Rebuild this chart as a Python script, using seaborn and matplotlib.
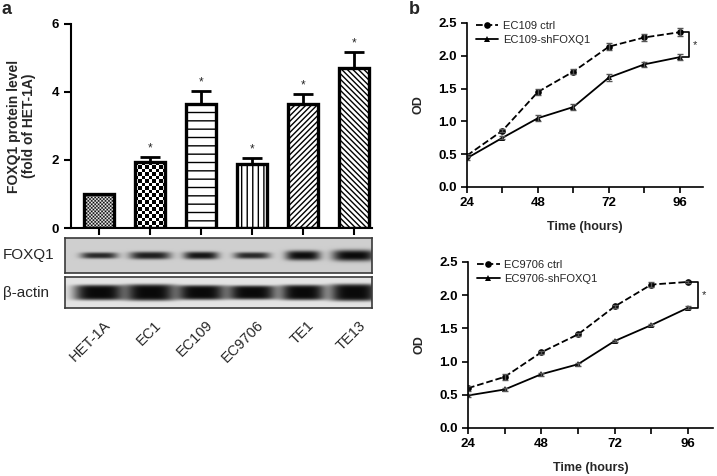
import numpy as np
import pandas as pd
import matplotlib
matplotlib.use('Agg')
import matplotlib.pyplot as plt
import seaborn as sns

sns.set_style('ticks')
plt.rcParams['font.family'] = ['Liberation Sans', 'DejaVu Sans']
plt.rcParams['hatch.linewidth'] = 1.0

# panel a: FOXQ1 protein level
cell_lines = ['HET-1A', 'EC1', 'EC109', 'EC9706', 'TE1', 'TE13']
foxq1_level = [1.0, 1.93, 3.65, 1.88, 3.65, 4.70]
foxq1_err = [0.0, 0.17, 0.38, 0.17, 0.30, 0.48]
hatches = ['checker_fine', 'checker', '--', '|||', '//////', '\\\\\\\\\\\\']

# western blot bands (half width in lanes, half thickness as strip fraction, darkness)
foxq1_band_w = [0.36, 0.40, 0.34, 0.35, 0.34, 0.42]
foxq1_band_h = [0.09, 0.11, 0.11, 0.095, 0.14, 0.16]
foxq1_band_d = [0.85, 0.90, 0.95, 0.85, 0.99, 1.0]
actin_band_w = [0.50, 0.50, 0.49, 0.49, 0.45, 0.48]
actin_band_h = [0.25, 0.27, 0.24, 0.23, 0.25, 0.28]
actin_band_d = [1.0, 1.0, 1.0, 1.0, 1.0, 1.0]

# panel b: growth curves
hours = [24, 36, 48, 60, 72, 84, 96]
ec109_ctrl = [0.48, 0.86, 1.45, 1.76, 2.14, 2.28, 2.36]
ec109_ctrl_err = [0.03, 0.02, 0.04, 0.04, 0.05, 0.05, 0.06]
ec109_sh = [0.44, 0.75, 1.05, 1.22, 1.67, 1.87, 1.98]
ec109_sh_err = [0.03, 0.02, 0.04, 0.04, 0.06, 0.04, 0.05]
ec9706_ctrl = [0.60, 0.77, 1.14, 1.41, 1.83, 2.16, 2.20]
ec9706_ctrl_err = [0.04, 0.04, 0.02, 0.02, 0.02, 0.04, 0.02]
ec9706_sh = [0.49, 0.58, 0.81, 0.96, 1.31, 1.55, 1.81]
ec9706_sh_err = [0.02, 0.02, 0.02, 0.02, 0.02, 0.02, 0.02]

W, H = 717, 476
fig = plt.figure(figsize=(W / 100, H / 100), dpi=100)


def px_axes(l, t, r, b):
    return fig.add_axes([l / W, 1 - b / H, (r - l) / W, (b - t) / H])


bold = dict(fontweight='bold')

# ---- bar chart ----
ax = px_axes(71, 24, 372, 228)
sns.barplot(x=cell_lines, y=foxq1_level, ax=ax, color='white', edgecolor='black',
            linewidth=2.4, width=0.6, saturation=1, errorbar=None)
px_x = 301 / 5.9
px_y = 204 / 6
for patch, h in zip(ax.patches, hatches):
    patch.set_zorder(2)
    if h.startswith('checker'):
        cell = 1.7 if h == 'checker_fine' else 3.4
        nx = max(1, int(round(patch.get_width() * px_x / cell)))
        ny = max(1, int(round(patch.get_height() * px_y / cell)))
        ii, jj = np.indices((ny, nx))
        board = ((ii + jj) % 2).astype(float)
        x0 = patch.get_x()
        im = ax.imshow(board, cmap='gray', vmin=0, vmax=1, aspect='auto',
                       extent=[x0, x0 + patch.get_width(), 0, patch.get_height()],
                       interpolation='antialiased', zorder=1)
        im.set_clip_path(patch)
        patch.set_facecolor('none')
    else:
        patch.set_hatch(h)
ax.set_xlim(-0.55, 5.35)
ax.set_ylim(0, 6)
idx = list(range(1, len(cell_lines)))
ax.errorbar(idx, [foxq1_level[i] for i in idx],
            yerr=[[0] * len(idx), [foxq1_err[i] for i in idx]],
            fmt='none', ecolor='black', elinewidth=2, capsize=7, capthick=2, zorder=3)
for i in idx:
    ax.text(i, foxq1_level[i] + foxq1_err[i] + 0.07, '*', ha='center', va='bottom',
            fontsize=8.5)
ax.set_yticks([0, 2, 4, 6])
ax.set_yticklabels(['0', '2', '4', '6'], fontsize=9.5, **bold)
ax.set_xticks(range(len(cell_lines)))
ax.set_xticklabels([])
ax.set_xlabel('')
ax.tick_params(axis='both', direction='out', length=5, width=1.5, colors='black')
ax.set_ylabel('FOXQ1 protein level\n(fold of HET-1A)', fontsize=10, labelpad=11,
              linespacing=1.1, **bold)
sns.despine(ax=ax)
for s in ['left', 'bottom']:
    ax.spines[s].set_linewidth(1.5)
    ax.spines[s].set_color('black')

# ---- western blot strips ----
blot_xlim = (-0.55 - 6 / px_x, 5.35)
lanes = np.arange(len(cell_lines))


def blot_strip(t, b, bg, widths, heights, darks, vexp):
    bx = px_axes(65, t, 372, b)
    npx_x, npx_y = 307 * 2, (b - t) * 2
    gx = np.linspace(blot_xlim[0], blot_xlim[1], npx_x)
    gy = np.linspace(0, 1, npx_y)
    X, Y = np.meshgrid(gx, gy)
    keep = np.ones_like(X)
    for i, w, h, d in zip(lanes, widths, heights, darks):
        band = d * np.exp(-np.abs((X - i) / w) ** 4 - np.abs((Y - 0.5) / h) ** vexp)
        keep *= 1 - band
    img = 0.04 + (bg - 0.04) * keep
    bx.imshow(img, cmap='gray', vmin=0, vmax=1, aspect='auto', origin='lower',
              extent=[blot_xlim[0], blot_xlim[1], 0, 1], interpolation='bilinear')
    bx.set_xlim(*blot_xlim)
    bx.set_ylim(0, 1)
    bx.set_xticks([])
    bx.set_yticks([])
    for s in bx.spines.values():
        s.set_linewidth(1.2)
        s.set_color('#3a3a3a')
        s.set_visible(True)
    return bx


fx = blot_strip(238, 273, 0.81, foxq1_band_w, foxq1_band_h, foxq1_band_d, 3)
bx = blot_strip(277, 308, 0.89, actin_band_w, actin_band_h, actin_band_d, 6)
fig.text(3 / W, 1 - 255 / H, 'FOXQ1', fontsize=11, va='center', ha='left')
fig.text(3 / W, 1 - 293 / H, 'β-actin', fontsize=11, va='center', ha='left')
for i, name in zip(lanes, cell_lines):
    bx.text(i + 14 / px_x, -10 / 31, name, rotation=45, ha='right', va='top',
            fontsize=10.5, transform=bx.transData)

# ---- growth curves ----


def growth(axg, ctrl, ctrl_err, sh, sh_err, names, xmax):
    sns.lineplot(x=hours, y=ctrl, ax=axg, color='black', marker='o', markersize=4.8,
                 linestyle='--', linewidth=1.3, label=names[0], markeredgewidth=0)
    sns.lineplot(x=hours, y=sh, ax=axg, color='black', marker='^', markersize=5,
                 linestyle='-', linewidth=1.3, label=names[1], markeredgewidth=0)
    axg.errorbar(hours, ctrl, yerr=ctrl_err, fmt='none', ecolor='#555555',
                 elinewidth=1, capsize=2.5, capthick=1)
    axg.errorbar(hours, sh, yerr=sh_err, fmt='none', ecolor='#555555',
                 elinewidth=1, capsize=2.5, capthick=1)
    axg.set_xlim(24, xmax)
    axg.set_ylim(0, 2.5)
    axg.set_xticks(hours)
    axg.set_xticklabels([str(h) if h % 24 == 0 else '' for h in hours], fontsize=9.5,
                        **bold)
    yt = [0, 0.5, 1.0, 1.5, 2.0, 2.5]
    axg.set_yticks(yt)
    axg.set_yticklabels([f'{v:.1f}' for v in yt], fontsize=9.5, **bold)
    axg.tick_params(axis='both', direction='out', length=4, width=1.2, colors='black')
    axg.set_xlabel('Time (hours)', fontsize=9, labelpad=8, **bold)
    axg.set_ylabel('OD', fontsize=9, labelpad=10, **bold)
    sns.despine(ax=axg)
    for s in ['left', 'bottom']:
        axg.spines[s].set_linewidth(1.2)
        axg.spines[s].set_color('black')
    axg.legend(loc='upper left', bbox_to_anchor=(0.02, 1.04), frameon=False,
               fontsize=8, handlelength=2.0, handletextpad=0.4, labelspacing=0.35,
               borderaxespad=0)
    y1, y2 = ctrl[-1], sh[-1]
    axg.plot([hours[-1] + 0.7, hours[-1] + 3.2, hours[-1] + 3.2, hours[-1] + 0.7],
             [y1, y1, y2, y2], color='black', lw=1.2, clip_on=False)
    axg.text(hours[-1] + 4.5, (y1 + y2) / 2, '*', fontsize=8, va='center', ha='left')


ax_top = px_axes(467, 23, 703, 187)
growth(ax_top, ec109_ctrl, ec109_ctrl_err, ec109_sh, ec109_sh_err,
       ['EC109 ctrl', 'EC109-shFOXQ1'], 103.8)
ax_bot = px_axes(468, 262, 713, 428)
growth(ax_bot, ec9706_ctrl, ec9706_ctrl_err, ec9706_sh, ec9706_sh_err,
       ['EC9706 ctrl', 'EC9706-shFOXQ1'], 104.2)

fig.text(2 / W, 1 - 1 / H, 'a', fontsize=13, va='top', ha='left', **bold)
fig.text(409 / W, 1 - 1 / H, 'b', fontsize=13, va='top', ha='left', **bold)

fig.savefig('out.png', dpi=100)
